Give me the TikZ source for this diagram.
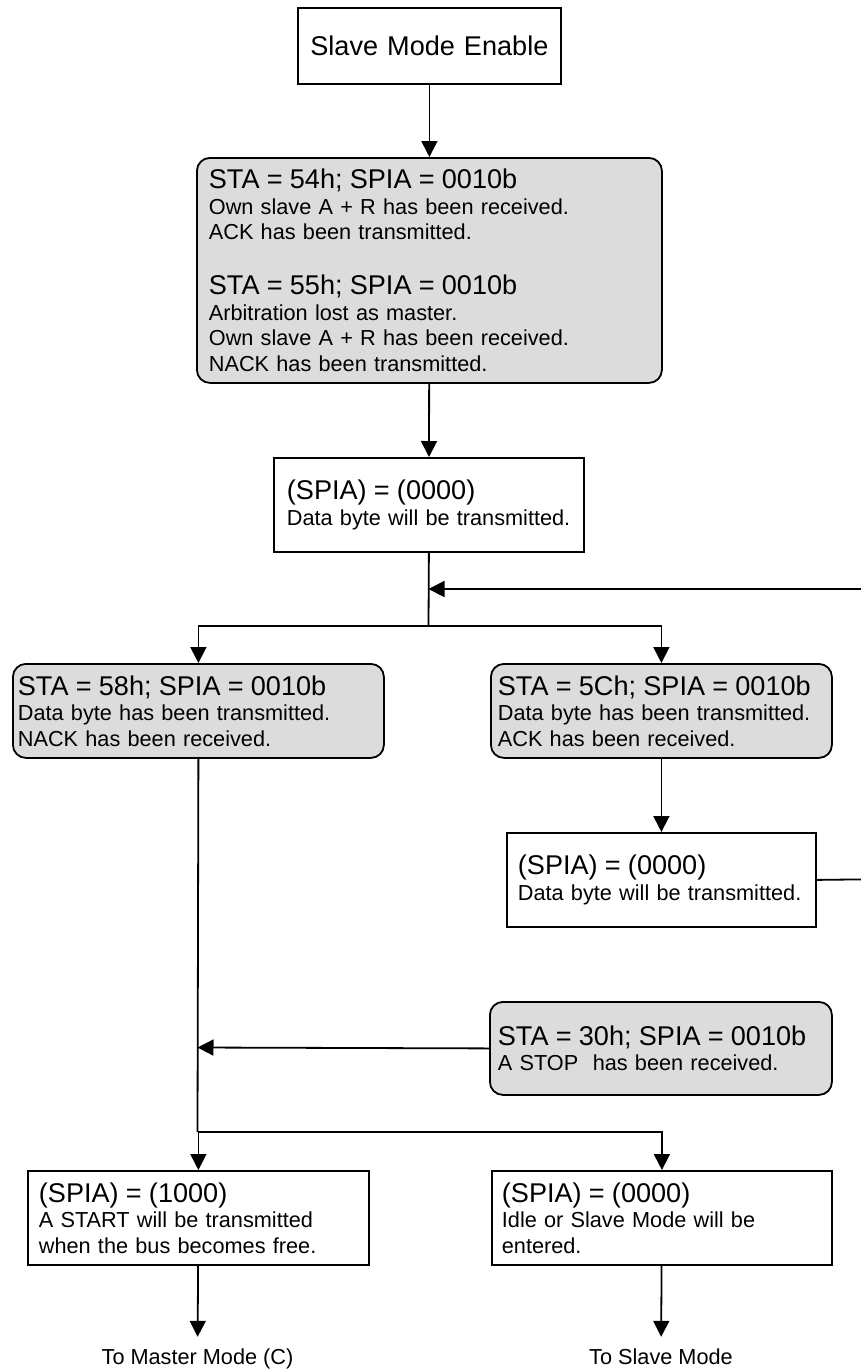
\documentclass[tikz,border=0pt]{standalone}
\usepackage{fontspec}
\setmainfont{Liberation Sans}
\usetikzlibrary{arrows.meta}
\definecolor{boxgray}{HTML}{DCDCDC}
\newcommand{\bigtxt}[1]{{\fontsize{27.1}{25.5}\selectfont #1}}
\begin{document}
\begin{tikzpicture}[x=1pt,y=-1pt,
  basebox/.style={draw=black, line width=1.8pt, anchor=north west, inner ysep=0pt,
    align=left, font=\fontsize{21.7}{25.5}\selectfont},
  plainbox/.style={basebox, fill=white},
  graybox/.style={basebox, fill=boxgray, rounded corners=13pt},
  conn/.style={line width=1.8pt},
  arr/.style={conn, -{Triangle[length=16pt,width=16pt]}},
  lbl/.style={inner xsep=0pt, inner ysep=11pt, text height=16pt, text depth=5pt,
    font=\fontsize{21.7}{25.5}\selectfont, anchor=base}
]
\useasboundingbox (0,0) rectangle (861,1369);
\clip (0,0) rectangle (861,1369);

\node[plainbox, minimum width=263pt, minimum height=76pt, inner xsep=0pt,
  text width=263pt, align=center, font=\fontsize{27.1}{30}\selectfont]
  (enable) at (297,7) {Slave Mode Enable};

\node[graybox, minimum width=465pt, minimum height=225pt, inner xsep=12pt, text width=441pt]
  (a54) at (196,157) {\bigtxt{STA = 54h; SPIA = 0010b}\\
  Own slave A + R has been received.\\
  ACK has been transmitted.\\[29.5pt]
  \bigtxt{STA = 55h; SPIA = 0010b}\\
  Arbitration lost as master.\\
  Own slave A + R has been received.\\
  NACK has been transmitted.};

\node[plainbox, minimum width=310pt, minimum height=94pt, inner xsep=13pt, text width=284pt]
  (spia1) at (273,457) {\bigtxt{(SPIA) = (0000)}\\
  Data byte will be transmitted.};

\node[graybox, minimum width=371pt, minimum height=94pt, inner xsep=5pt, text width=361pt]
  (b58) at (12,663) {\bigtxt{STA = 58h; SPIA = 0010b}\\
  Data byte has been transmitted.\\
  NACK has been received.};

\node[graybox, minimum width=341pt, minimum height=94pt, inner xsep=7pt, text width=327pt]
  (b5c) at (490,663) {\bigtxt{STA = 5Ch; SPIA = 0010b}\\
  Data byte has been transmitted.\\
  ACK has been received.};

\node[plainbox, minimum width=309pt, minimum height=94pt, inner xsep=11pt, text width=287pt]
  (spia2) at (506,832) {\bigtxt{(SPIA) = (0000)}\\
  Data byte will be transmitted.};

\node[graybox, minimum width=342pt, minimum height=93pt, inner xsep=8pt, text width=326pt]
  (b30) at (489,1001) {\bigtxt{STA = 30h; SPIA = 0010b}\\
  A STOP\ \ has been received.};

\node[plainbox, minimum width=341pt, minimum height=94pt, inner xsep=11pt, text width=319pt]
  (spia3) at (27,1170) {\bigtxt{(SPIA) = (1000)}\\
  A START will be transmitted\\
  when the bus becomes free.};

\node[plainbox, minimum width=340pt, minimum height=94pt, inner xsep=10pt, text width=320pt]
  (spia4) at (491,1170) {\bigtxt{(SPIA) = (0000)}\\
  Idle or Slave Mode will be\\
  entered.};

\node[lbl] (tomaster) at (197.5,1364) {To Master Mode (C)};
\node[lbl] (toslave) at (661,1364) {To Slave Mode};

\coordinate (j1) at (428.5,626);
\coordinate (loopin) at (428.5,589);
\coordinate (j2) at (197.5,1132);
\coordinate (stopin) at (197.5,1047.5);
\coordinate (loopout) at (895,879);

\draw[arr] (enable) -- (a54);
\draw[arr] (a54) -- (spia1);
\draw[conn] (spia1.south) -- (j1);
\draw[arr] (j1) -| (b58.north);
\draw[arr] (j1) -| (b5c.north);
\draw[arr] (b5c) -- (spia2);
\draw[arr] (spia2.east) -- (loopout) |- (loopin);
\draw[conn] (b58.south) -- (j2);
\draw[arr] (b30.west) -- (stopin);
\draw[arr] (j2) -| (spia3.north);
\draw[arr] (j2) -| (spia4.north);
\draw[arr] (spia3) -- (tomaster);
\draw[arr] (spia4) -- (toslave);
\end{tikzpicture}
\end{document}
